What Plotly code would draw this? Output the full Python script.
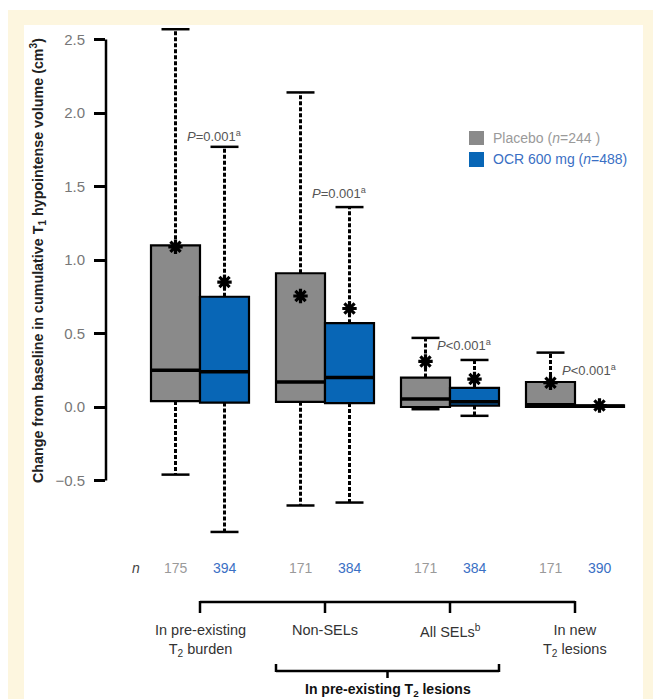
import plotly.graph_objects as go

# ---------------- data ----------------
groups = ["In pre-existing<br>T<sub>2</sub> burden", "Non-SELs", "All SELs<sup>b</sup>",
          "In new<br>T<sub>2</sub> lesions"]
placebo_q1 = [0.04, 0.035, 0.0, 0.0]
placebo_median = [0.25, 0.17, 0.055, 0.015]
placebo_q3 = [1.10, 0.91, 0.20, 0.17]
placebo_upper = [2.57, 2.14, 0.47, 0.37]
placebo_lower = [-0.46, -0.67, -0.015, 0.0]
placebo_mean = [1.09, 0.755, 0.31, 0.165]

ocr_q1 = [0.03, 0.027, 0.01, 0.0]
ocr_median = [0.24, 0.20, 0.035, 0.005]
ocr_q3 = [0.75, 0.57, 0.13, 0.012]
ocr_upper = [1.77, 1.36, 0.32, 0.012]
ocr_lower = [-0.85, -0.65, -0.06, 0.0]
ocr_mean = [0.85, 0.67, 0.19, 0.01]

placebo_n = [175, 171, 171, 171]
ocr_n = [394, 384, 384, 390]
p_texts = ["<i>P</i>=0.001<sup>a</sup>", "<i>P</i>=0.001<sup>a</sup>",
           "<i>P</i>&lt;0.001<sup>a</sup>", "<i>P</i>&lt;0.001<sup>a</sup>"]
series_names = ["Placebo (<i>n</i>=244 )", "OCR 600 mg (<i>n</i>=488)"]
ytick_vals = [-0.5, 0.0, 0.5, 1.0, 1.5, 2.0, 2.5]
y_title = "Change from baseline in cumulative T<sub>1</sub> hypointense volume (cm<sup>3</sup>)"
bracket_title = "In pre-existing T<sub>2</sub> lesions"

# ---------------- style / layout ----------------
GREY = "#8a8a8a"
BLUE = "#0866b6"
GREY_TXT = "#9a9a9a"
BLUE_TXT = "#3a6fc4"
CREAM = "#fdf6df"
FONT = "Liberation Sans, Arial, sans-serif"
W, H = 653, 699
ML, MR, MT, MB = 106, 13, 20, 139
OFF = 0.196   # half distance between paired boxes (x units)
BW = 0.392    # box width
CAP = 0.224   # cap width
p_label_y = [1.845, 1.456, 0.422, 0.252]

XR = [-0.752, 3.52]
YR = [-1.0408, 2.6327]

pw = W - ML - MR
ph = H - MT - MB


def px(p):
    return (p - ML) / pw


def py(p):
    return (H - MB - p) / ph


gx = list(range(len(groups)))
pl_x = [g - OFF for g in gx]
oc_x = [g + OFF for g in gx]

fig = go.Figure()


def add_series(xs, q1, med, q3, up, lo, mean, color):
    fig.add_trace(go.Bar(x=xs, y=[b - a for a, b in zip(q1, q3)], base=q1, width=BW,
                         marker=dict(color=color, line=dict(color="black", width=2.2)),
                         showlegend=False, hoverinfo="skip"))
    wx, wy, cx, cy = [], [], [], []
    for x, a, b, u, l in zip(xs, q1, q3, up, lo):
        if u > b:
            wx += [x, x, None]
            wy += [b, u, None]
            cx += [x - CAP / 2, x + CAP / 2, None]
            cy += [u, u, None]
        if l < a:
            wx += [x, x, None]
            wy += [a, l, None]
            cx += [x - CAP / 2, x + CAP / 2, None]
            cy += [l, l, None]
    fig.add_trace(go.Scatter(x=wx, y=wy, mode="lines",
                             line=dict(color="black", width=3, dash="4px,2px"),
                             showlegend=False, hoverinfo="skip"))
    fig.add_trace(go.Scatter(x=cx, y=cy, mode="lines",
                             line=dict(color="black", width=2.5),
                             showlegend=False, hoverinfo="skip"))
    mx, my = [], []
    for x, m in zip(xs, med):
        mx += [x - BW / 2, x + BW / 2, None]
        my += [m, m, None]
    fig.add_trace(go.Scatter(x=mx, y=my, mode="lines",
                             line=dict(color="black", width=3.5),
                             showlegend=False, hoverinfo="skip"))
    fig.add_trace(go.Scatter(x=xs, y=mean, mode="markers",
                             marker=dict(symbol="asterisk-open", size=12, color="black",
                                         line=dict(color="black", width=3.2)),
                             showlegend=False, hoverinfo="skip"))


add_series(pl_x, placebo_q1, placebo_median, placebo_q3, placebo_upper, placebo_lower,
           placebo_mean, GREY)
add_series(oc_x, ocr_q1, ocr_median, ocr_q3, ocr_upper, ocr_lower, ocr_mean, BLUE)

shapes = []
# background frame
shapes.append(dict(type="rect", xref="paper", yref="paper", x0=px(8), x1=px(660),
                   y0=py(720), y1=py(10), fillcolor=CREAM, line=dict(width=0), layer="below"))
shapes.append(dict(type="rect", xref="paper", yref="paper", x0=px(24), x1=px(643),
                   y0=py(720), y1=py(25), fillcolor="white", line=dict(width=0), layer="below"))
# y axis line (from -0.5 to 2.5)
shapes.append(dict(type="line", xref="paper", yref="y", x0=0, x1=0,
                   y0=ytick_vals[0], y1=ytick_vals[-1], line=dict(color="black", width=2.5)))
# legend squares
shapes.append(dict(type="rect", xref="paper", yref="paper", x0=px(469), x1=px(484),
                   y0=py(145), y1=py(131), fillcolor=GREY, line=dict(width=0)))
shapes.append(dict(type="rect", xref="paper", yref="paper", x0=px(469), x1=px(484),
                   y0=py(167), y1=py(152), fillcolor=BLUE, line=dict(width=0)))
# top bracket
shapes.append(dict(type="line", xref="x", yref="paper", x0=gx[0], x1=gx[-1],
                   y0=py(602), y1=py(602), line=dict(color="black", width=2.5)))
for g in gx:
    shapes.append(dict(type="line", xref="x", yref="paper", x0=g, x1=g,
                       y0=py(601), y1=py(613), line=dict(color="black", width=2.5)))
# lower bracket spanning Non-SELs and All SELs boxes
bl = gx[1] - OFF - BW / 2
br = gx[2] + OFF + BW / 2
shapes.append(dict(type="line", xref="x", yref="paper", x0=bl, x1=br,
                   y0=py(671), y1=py(671), line=dict(color="black", width=2.5)))
for xx in (bl, br):
    shapes.append(dict(type="line", xref="x", yref="paper", x0=xx, x1=xx,
                       y0=py(664), y1=py(672), line=dict(color="black", width=2.5)))
shapes.append(dict(type="line", xref="x", yref="paper", x0=(bl + br) / 2, x1=(bl + br) / 2,
                   y0=py(670), y1=py(678), line=dict(color="black", width=2.5)))

ann = []
# y title
ann.append(dict(text=y_title, xref="paper", yref="paper", x=px(38), y=py(261),
                xanchor="center", yanchor="middle",
                textangle=-90, showarrow=False,
                font=dict(family=FONT, size=14.3, color="#222", weight="bold")))
# legend text
ann.append(dict(text=series_names[0], xref="paper", yref="paper", x=px(491), y=py(138),
                xanchor="left", yanchor="middle", showarrow=False,
                font=dict(family=FONT, size=14, color=GREY_TXT)))
ann.append(dict(text=series_names[1], xref="paper", yref="paper", x=px(491), y=py(159),
                xanchor="left", yanchor="middle", showarrow=False,
                font=dict(family=FONT, size=14, color=BLUE_TXT)))
# P values
for g, t, yy in zip(gx, p_texts, p_label_y):
    ann.append(dict(text=t, xref="x", yref="y", x=oc_x[g] - 0.32, y=yy,
                    xanchor="left", yanchor="middle", showarrow=False,
                    font=dict(family=FONT, size=13, color="#555")))
# n row
ann.append(dict(text="<i>n</i>", xref="x", yref="paper", x=-0.51, y=py(568),
                yanchor="middle", showarrow=False,
                font=dict(family=FONT, size=14, color="#444")))
for x, n in zip(pl_x, placebo_n):
    ann.append(dict(text=str(n), xref="x", yref="paper", x=x, y=py(568), yanchor="middle",
                    showarrow=False, font=dict(family=FONT, size=14, color=GREY_TXT)))
for x, n in zip(oc_x, ocr_n):
    ann.append(dict(text=str(n), xref="x", yref="paper", x=x, y=py(568), yanchor="middle",
                    showarrow=False, font=dict(family=FONT, size=14, color=BLUE_TXT)))
# category labels
for g, lab in zip(gx, groups):
    ann.append(dict(text=lab, xref="x", yref="paper", x=g, y=py(620), yanchor="top",
                    showarrow=False, font=dict(family=FONT, size=14.5, color="#333")))
ann.append(dict(text=bracket_title, xref="x", yref="paper", x=(bl + br) / 2, y=py(690),
                yanchor="middle", showarrow=False,
                font=dict(family=FONT, size=14, color="#111", weight="bold")))

fig.update_layout(
    width=W, height=H, autosize=False,
    margin=dict(l=ML, r=MR, t=MT, b=MB, pad=0),
    paper_bgcolor="white", plot_bgcolor="rgba(0,0,0,0)",
    barmode="overlay", showlegend=False,
    font=dict(family=FONT),
    shapes=shapes, annotations=ann,
    xaxis=dict(range=XR, visible=False, fixedrange=True),
    yaxis=dict(range=YR, tickvals=ytick_vals, tickformat=".1f", ticks="outside",
               ticklen=11, tickwidth=2.5, tickcolor="black", ticklabelstandoff=6,
               tickfont=dict(family=FONT, size=15, color="#777"),
               showgrid=False, zeroline=False, showline=False, fixedrange=True),
)

fig.write_html("out.html", config={"displayModeBar": False},
               post_script="document.body.style.margin='0';document.body.style.overflow='hidden';")
